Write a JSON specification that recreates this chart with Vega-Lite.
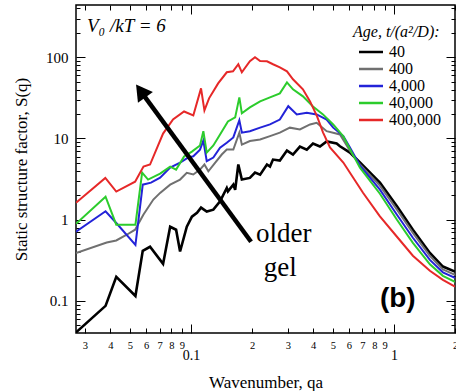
{
  "$schema": "https://vega.github.io/schema/vega-lite/v6.json",
  "width": 379,
  "height": 328,
  "autosize": "none",
  "padding": {"left": 76, "top": 5, "right": 1, "bottom": 58},
  "background": "white",
  "config": {"view": {"stroke": "black", "strokeWidth": 1.5}, "font": "Liberation Serif"},
  "datasets": {
    "curves": [
      {"age": "40", "q": 0.0271, "S": 0.041}, {"age": "40", "q": 0.0379, "S": 0.087}, {"age": "40", "q": 0.0428, "S": 0.198}, {"age": "40", "q": 0.0532, "S": 0.115}, {"age": "40", "q": 0.0578, "S": 0.414}, {"age": "40", "q": 0.0628, "S": 0.464}, {"age": "40", "q": 0.0728, "S": 0.286}, {"age": "40", "q": 0.0789, "S": 0.82}, {"age": "40", "q": 0.0844, "S": 0.753}, {"age": "40", "q": 0.0883, "S": 0.406}, {"age": "40", "q": 0.0953, "S": 0.82}, {"age": "40", "q": 0.101, "S": 1.09}, {"age": "40", "q": 0.107, "S": 1.22}, {"age": "40", "q": 0.112, "S": 1.41}, {"age": "40", "q": 0.1195, "S": 1.26}, {"age": "40", "q": 0.1288, "S": 1.33}, {"age": "40", "q": 0.139, "S": 1.68}, {"age": "40", "q": 0.15, "S": 2.46}, {"age": "40", "q": 0.152, "S": 2.24}, {"age": "40", "q": 0.1616, "S": 2.7}, {"age": "40", "q": 0.165, "S": 2.34}, {"age": "40", "q": 0.171, "S": 4.78}, {"age": "40", "q": 0.178, "S": 3.12}, {"age": "40", "q": 0.195, "S": 3.27}, {"age": "40", "q": 0.2067, "S": 3.8}, {"age": "40", "q": 0.219, "S": 3.59}, {"age": "40", "q": 0.2367, "S": 4.78}, {"age": "40", "q": 0.245, "S": 4.51}, {"age": "40", "q": 0.2535, "S": 5.5}, {"age": "40", "q": 0.274, "S": 5.35}, {"age": "40", "q": 0.297, "S": 7.1}, {"age": "40", "q": 0.318, "S": 6.35}, {"age": "40", "q": 0.344, "S": 7.96}, {"age": "40", "q": 0.372, "S": 7.3}, {"age": "40", "q": 0.399, "S": 8.67}, {"age": "40", "q": 0.432, "S": 7.96}, {"age": "40", "q": 0.466, "S": 9.18}, {"age": "40", "q": 0.522, "S": 8.67}, {"age": "40", "q": 0.542, "S": 8.03}, {"age": "40", "q": 0.607, "S": 6.71}, {"age": "40", "q": 0.68, "S": 5.06}, {"age": "40", "q": 0.853, "S": 2.86}, {"age": "40", "q": 1.035, "S": 1.46}, {"age": "40", "q": 1.24, "S": 0.753}, {"age": "40", "q": 1.504, "S": 0.39}, {"age": "40", "q": 1.743, "S": 0.265}, {"age": "40", "q": 2.0, "S": 0.23},
      {"age": "400", "q": 0.0271, "S": 0.388}, {"age": "400", "q": 0.0384, "S": 0.525}, {"age": "400", "q": 0.0428, "S": 0.555}, {"age": "400", "q": 0.0482, "S": 0.653}, {"age": "400", "q": 0.053, "S": 0.753}, {"age": "400", "q": 0.0582, "S": 1.15}, {"age": "400", "q": 0.0652, "S": 1.77}, {"age": "400", "q": 0.0704, "S": 2.14}, {"age": "400", "q": 0.0789, "S": 2.7}, {"age": "400", "q": 0.0883, "S": 3.12}, {"age": "400", "q": 0.0953, "S": 3.77}, {"age": "400", "q": 0.1026, "S": 3.6}, {"age": "400", "q": 0.1107, "S": 4.14}, {"age": "400", "q": 0.1164, "S": 4.78}, {"age": "400", "q": 0.1217, "S": 3.95}, {"age": "400", "q": 0.1313, "S": 5.0}, {"age": "400", "q": 0.1417, "S": 6.35}, {"age": "400", "q": 0.15, "S": 7.3}, {"age": "400", "q": 0.1616, "S": 7.3}, {"age": "400", "q": 0.173, "S": 11.8}, {"age": "400", "q": 0.178, "S": 8.4}, {"age": "400", "q": 0.195, "S": 9.3}, {"age": "400", "q": 0.219, "S": 9.7}, {"age": "400", "q": 0.245, "S": 10.7}, {"age": "400", "q": 0.274, "S": 11.8}, {"age": "400", "q": 0.307, "S": 13.6}, {"age": "400", "q": 0.344, "S": 12.9}, {"age": "400", "q": 0.386, "S": 14.9}, {"age": "400", "q": 0.416, "S": 15.6}, {"age": "400", "q": 0.466, "S": 12.3}, {"age": "400", "q": 0.542, "S": 11.2}, {"age": "400", "q": 0.607, "S": 7.1}, {"age": "400", "q": 0.68, "S": 4.78}, {"age": "400", "q": 0.853, "S": 2.63}, {"age": "400", "q": 1.035, "S": 1.33}, {"age": "400", "q": 1.24, "S": 0.69}, {"age": "400", "q": 1.504, "S": 0.36}, {"age": "400", "q": 1.743, "S": 0.245}, {"age": "400", "q": 2.0, "S": 0.21},
      {"age": "4,000", "q": 0.0271, "S": 0.71}, {"age": "4,000", "q": 0.0379, "S": 1.27}, {"age": "4,000", "q": 0.0428, "S": 0.91}, {"age": "4,000", "q": 0.0532, "S": 0.49}, {"age": "4,000", "q": 0.0578, "S": 2.7}, {"age": "4,000", "q": 0.0635, "S": 2.86}, {"age": "4,000", "q": 0.0704, "S": 3.3}, {"age": "4,000", "q": 0.0789, "S": 4.38}, {"age": "4,000", "q": 0.0883, "S": 5.06}, {"age": "4,000", "q": 0.0966, "S": 5.82}, {"age": "4,000", "q": 0.1026, "S": 6.04}, {"age": "4,000", "q": 0.1107, "S": 7.3}, {"age": "4,000", "q": 0.115, "S": 9.45}, {"age": "4,000", "q": 0.1195, "S": 5.25}, {"age": "4,000", "q": 0.1288, "S": 5.82}, {"age": "4,000", "q": 0.139, "S": 7.68}, {"age": "4,000", "q": 0.15, "S": 8.85}, {"age": "4,000", "q": 0.1616, "S": 10.3}, {"age": "4,000", "q": 0.173, "S": 16.8}, {"age": "4,000", "q": 0.178, "S": 11.8}, {"age": "4,000", "q": 0.195, "S": 12.3}, {"age": "4,000", "q": 0.219, "S": 13.6}, {"age": "4,000", "q": 0.245, "S": 14.9}, {"age": "4,000", "q": 0.274, "S": 17.1}, {"age": "4,000", "q": 0.3015, "S": 25}, {"age": "4,000", "q": 0.332, "S": 19.8}, {"age": "4,000", "q": 0.372, "S": 20.8}, {"age": "4,000", "q": 0.416, "S": 19.8}, {"age": "4,000", "q": 0.466, "S": 17.1}, {"age": "4,000", "q": 0.502, "S": 13.6}, {"age": "4,000", "q": 0.563, "S": 10.7}, {"age": "4,000", "q": 0.607, "S": 7.74}, {"age": "4,000", "q": 0.68, "S": 4.64}, {"age": "4,000", "q": 0.853, "S": 2.35}, {"age": "4,000", "q": 1.035, "S": 1.15}, {"age": "4,000", "q": 1.24, "S": 0.6}, {"age": "4,000", "q": 1.504, "S": 0.32}, {"age": "4,000", "q": 1.743, "S": 0.225}, {"age": "4,000", "q": 2.0, "S": 0.192},
      {"age": "40,000", "q": 0.0271, "S": 0.89}, {"age": "40,000", "q": 0.0379, "S": 1.92}, {"age": "40,000", "q": 0.0428, "S": 0.87}, {"age": "40,000", "q": 0.0532, "S": 0.87}, {"age": "40,000", "q": 0.0574, "S": 3.8}, {"age": "40,000", "q": 0.0614, "S": 3.12}, {"age": "40,000", "q": 0.0704, "S": 3.7}, {"age": "40,000", "q": 0.0789, "S": 4.51}, {"age": "40,000", "q": 0.0844, "S": 4.14}, {"age": "40,000", "q": 0.0924, "S": 6.0}, {"age": "40,000", "q": 0.101, "S": 6.9}, {"age": "40,000", "q": 0.1107, "S": 8.2}, {"age": "40,000", "q": 0.115, "S": 12.3}, {"age": "40,000", "q": 0.1195, "S": 6.71}, {"age": "40,000", "q": 0.1288, "S": 8.2}, {"age": "40,000", "q": 0.139, "S": 11.2}, {"age": "40,000", "q": 0.152, "S": 16.2}, {"age": "40,000", "q": 0.165, "S": 18.2}, {"age": "40,000", "q": 0.173, "S": 32.1}, {"age": "40,000", "q": 0.178, "S": 20.4}, {"age": "40,000", "q": 0.195, "S": 24.1}, {"age": "40,000", "q": 0.219, "S": 28.6}, {"age": "40,000", "q": 0.245, "S": 32.1}, {"age": "40,000", "q": 0.274, "S": 35.9}, {"age": "40,000", "q": 0.297, "S": 49.1}, {"age": "40,000", "q": 0.318, "S": 40.3}, {"age": "40,000", "q": 0.356, "S": 33}, {"age": "40,000", "q": 0.399, "S": 24.8}, {"age": "40,000", "q": 0.447, "S": 19.8}, {"age": "40,000", "q": 0.502, "S": 14.9}, {"age": "40,000", "q": 0.563, "S": 10.6}, {"age": "40,000", "q": 0.607, "S": 7.4}, {"age": "40,000", "q": 0.68, "S": 4.38}, {"age": "40,000", "q": 0.853, "S": 2.09}, {"age": "40,000", "q": 1.035, "S": 1.0}, {"age": "40,000", "q": 1.24, "S": 0.52}, {"age": "40,000", "q": 1.504, "S": 0.282}, {"age": "40,000", "q": 1.743, "S": 0.204}, {"age": "40,000", "q": 2.0, "S": 0.172},
      {"age": "400,000", "q": 0.0271, "S": 1.62}, {"age": "400,000", "q": 0.0378, "S": 3.27}, {"age": "400,000", "q": 0.0428, "S": 2.22}, {"age": "400,000", "q": 0.053, "S": 2.94}, {"age": "400,000", "q": 0.0583, "S": 4.51}, {"age": "400,000", "q": 0.0628, "S": 4.78}, {"age": "400,000", "q": 0.0728, "S": 11.5}, {"age": "400,000", "q": 0.0815, "S": 17.2}, {"age": "400,000", "q": 0.0924, "S": 21.5}, {"age": "400,000", "q": 0.1026, "S": 19.2}, {"age": "400,000", "q": 0.112, "S": 41.4}, {"age": "400,000", "q": 0.1164, "S": 22.2}, {"age": "400,000", "q": 0.1227, "S": 31.2}, {"age": "400,000", "q": 0.136, "S": 47.7}, {"age": "400,000", "q": 0.15, "S": 65.3}, {"age": "400,000", "q": 0.161, "S": 67.2}, {"age": "400,000", "q": 0.171, "S": 82}, {"age": "400,000", "q": 0.178, "S": 65.3}, {"age": "400,000", "q": 0.195, "S": 89.3}, {"age": "400,000", "q": 0.2067, "S": 100}, {"age": "400,000", "q": 0.219, "S": 90}, {"age": "400,000", "q": 0.2367, "S": 89.3}, {"age": "400,000", "q": 0.2535, "S": 82}, {"age": "400,000", "q": 0.274, "S": 75.3}, {"age": "400,000", "q": 0.297, "S": 67.2}, {"age": "400,000", "q": 0.318, "S": 53.5}, {"age": "400,000", "q": 0.356, "S": 40.3}, {"age": "400,000", "q": 0.386, "S": 28.6}, {"age": "400,000", "q": 0.418, "S": 18.7}, {"age": "400,000", "q": 0.447, "S": 11.9}, {"age": "400,000", "q": 0.484, "S": 7.74}, {"age": "400,000", "q": 0.563, "S": 5.06}, {"age": "400,000", "q": 0.704, "S": 2.15}, {"age": "400,000", "q": 0.853, "S": 1.1}, {"age": "400,000", "q": 1.035, "S": 0.617}, {"age": "400,000", "q": 1.24, "S": 0.36}, {"age": "400,000", "q": 1.504, "S": 0.235}, {"age": "400,000", "q": 1.743, "S": 0.182}, {"age": "400,000", "q": 2.0, "S": 0.15}
    ]
  },
  "layer": [
    {
      "data": {"name": "curves"},
      "mark": {"type": "line", "clip": true},
      "encoding": {
        "x": {"field": "q", "type": "quantitative", "scale": {"type": "log", "domain": [0.0271, 2.0], "nice": false},
          "axis": {"orient": "bottom", "values": [0.03,0.04,0.05,0.06,0.07,0.08,0.09,0.1,0.2,0.3,0.4,0.5,0.6,0.7,0.8,0.9,1,2], "format": "~g",
            "labelExpr": "datum.value == 0.1 || datum.value == 1 ? datum.label : slice(datum.label, -1)",
            "labelFontSize": {"condition": {"test": "datum.value == 0.1 || datum.value == 1", "value": 14}, "value": 10.5},
            "labelPadding": {"condition": {"test": "datum.value == 0.1 || datum.value == 1", "value": 24}, "value": 12},
            "tickSize": {"condition": {"test": "datum.value == 0.1 || datum.value == 1", "value": -9}, "value": -5},
            "tickColor": "black", "labelColor": "black", "labelFont": "Liberation Serif", "domain": false, "grid": false,
            "labelFlush": false, "labelOverlap": false, "labelBound": false,
            "title": "Wavenumber, qa", "titleFont": "Liberation Serif", "titleFontSize": 17, "titleFontWeight": "normal", "titleColor": "black", "titlePadding": 12}},
        "y": {"field": "S", "type": "quantitative", "scale": {"type": "log", "domain": [0.0403, 440], "nice": false},
          "axis": {"orient": "left", "values": [0.05,0.06,0.07,0.08,0.09,0.1,0.2,0.3,0.4,0.5,0.6,0.7,0.8,0.9,1,2,3,4,5,6,7,8,9,10,20,30,40,50,60,70,80,90,100,200,300,400], "format": "~g",
            "labelExpr": "indexof([0.1,1,10,100], datum.value) >= 0 ? datum.label : ''",
            "tickSize": {"condition": {"test": "indexof([0.1,1,10,100], datum.value) >= 0", "value": -9}, "value": -4},
            "labelPadding": 17, "labelFontSize": 15, "labelFont": "Liberation Serif", "labelColor": "black", "tickColor": "black", "domain": false, "grid": false,
            "labelOverlap": false, "labelBound": false, "labelFlush": false,
            "title": "Static structure factor, S(q)", "titleFont": "Liberation Serif", "titleFontSize": 17, "titleFontWeight": "normal", "titleColor": "black", "titlePadding": 15}},
        "color": {"field": "age", "type": "nominal", "sort": ["40","400","4,000","40,000","400,000"],
          "scale": {"domain": ["40","400","4,000","40,000","400,000"], "range": ["#000000","#707070","#2323d8","#2ccc2c","#e62828"]},
          "legend": {"orient": "none", "legendX": 277, "legendY": 19, "title": "Age, t/(a²/D):", "titleFont": "Liberation Serif", "titleFontStyle": "italic", "titleFontSize": 16, "titleFontWeight": "normal", "titleColor": "black", "titlePadding": 3,
            "labelFont": "Liberation Serif", "labelFontSize": 16, "labelColor": "black", "symbolType": "M-1.6,0L1.6,0", "symbolStrokeWidth": 2.5, "symbolSize": 225, "symbolOffset": 9, "rowPadding": -1.5, "labelOffset": 9, "padding": 0}},
        "strokeWidth": {"condition": {"test": "datum.age == '40'", "value": 2.6}, "value": 2}
      }
    },
    {
      "data": {"name": "curves"},
      "mark": {"type": "point", "opacity": 0},
      "encoding": {
        "x": {"field": "q", "type": "quantitative", "axis": {"orient": "top", "values": [0.03,0.04,0.05,0.06,0.07,0.08,0.09,0.1,0.2,0.3,0.4,0.5,0.6,0.7,0.8,0.9,1,2], "labels": false, "domain": false, "grid": false, "title": null, "tickColor": "black",
          "tickSize": {"condition": {"test": "datum.value == 0.1 || datum.value == 1", "value": -9}, "value": -5}}},
        "y": {"field": "S", "type": "quantitative", "axis": {"orient": "right", "values": [0.05,0.06,0.07,0.08,0.09,0.1,0.2,0.3,0.4,0.5,0.6,0.7,0.8,0.9,1,2,3,4,5,6,7,8,9,10,20,30,40,50,60,70,80,90,100,200,300,400], "labels": false, "domain": false, "grid": false, "title": null, "tickColor": "black",
          "tickSize": {"condition": {"test": "indexof([0.1,1,10,100], datum.value) >= 0", "value": -9}, "value": -4}}}
      }
    },
    {
      "data": {"values": [{"q": 0.1976, "S": 0.535, "q2": 0.058, "S2": 34.9}]},
      "mark": {"type": "rule", "color": "black", "strokeWidth": 4.5},
      "encoding": {"x": {"field": "q", "type": "quantitative", "axis": null}, "y": {"field": "S", "type": "quantitative", "axis": null}, "x2": {"field": "q2"}, "y2": {"field": "S2"}}
    },
    {
      "data": {"values": [{"q": 0.0565, "S": 38.6}]},
      "mark": {"type": "point", "shape": "triangle-up", "filled": true, "color": "black", "opacity": 1, "size": 340, "angle": 324},
      "encoding": {"x": {"field": "q", "type": "quantitative", "axis": null}, "y": {"field": "S", "type": "quantitative", "axis": null}}
    },
    {
      "data": {"values": [{"label": "V₀ /kT = 6", "q": 0.0307, "S": 204}]},
      "mark": {"type": "text", "font": "Liberation Serif", "fontStyle": "italic", "fontSize": 19, "align": "left", "baseline": "alphabetic", "color": "black"},
      "encoding": {"x": {"field": "q", "type": "quantitative", "axis": null}, "y": {"field": "S", "type": "quantitative", "axis": null}, "text": {"field": "label"}}
    },
    {
      "data": {"values": [{"label": "older", "q": 0.209, "S": 0.535}, {"label": "gel", "q": 0.228, "S": 0.204}]},
      "mark": {"type": "text", "font": "Liberation Serif", "fontSize": 27, "align": "left", "baseline": "alphabetic", "color": "black"},
      "encoding": {"x": {"field": "q", "type": "quantitative", "axis": null}, "y": {"field": "S", "type": "quantitative", "axis": null}, "text": {"field": "label"}}
    },
    {
      "data": {"values": [{"label": "(b)", "q": 0.853, "S": 0.0843}]},
      "mark": {"type": "text", "font": "Liberation Sans", "fontWeight": "bold", "fontSize": 28, "align": "left", "baseline": "alphabetic", "color": "black"},
      "encoding": {"x": {"field": "q", "type": "quantitative", "axis": null}, "y": {"field": "S", "type": "quantitative", "axis": null}, "text": {"field": "label"}}
    }
  ],
  "resolve": {"axis": {"x": "independent", "y": "independent"}}
}
